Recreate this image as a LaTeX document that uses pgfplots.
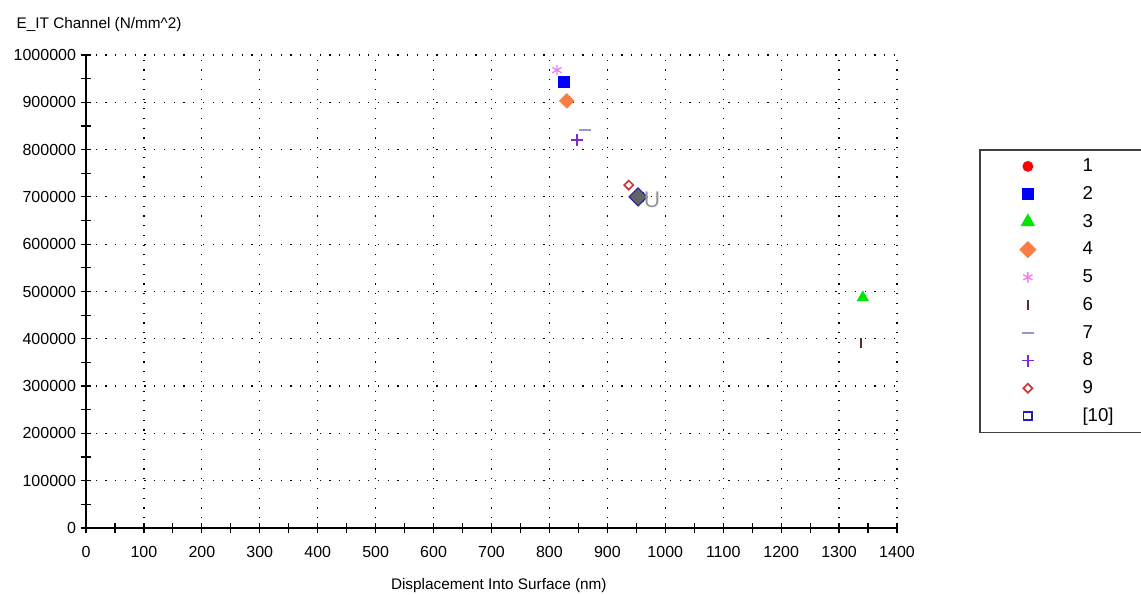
\documentclass[border=0pt]{standalone}
\usepackage{pgfplots}
\pgfplotsset{compat=1.18}
\usepackage{fontspec}
\setmainfont{Liberation Sans}
\definecolor{c1}{RGB}{255,0,0}
\definecolor{c2}{RGB}{0,0,255}
\definecolor{c3}{RGB}{0,230,0}
\definecolor{c4}{RGB}{250,125,70}
\definecolor{c5}{RGB}{238,130,238}
\definecolor{c6}{RGB}{90,45,45}
\definecolor{c7}{RGB}{150,150,215}
\definecolor{c8}{RGB}{130,40,210}
\definecolor{c9}{RGB}{200,60,60}
\definecolor{c10}{RGB}{30,30,180}
\definecolor{c11}{RGB}{100,100,100}
\definecolor{c12}{RGB}{150,150,150}
\begin{document}
\begin{tikzpicture}
\useasboundingbox (0pt,0pt) rectangle (855.75pt,446.25pt);
\node[anchor=west,font=\fontsize{11.5}{13}\selectfont] at (9pt,427.5pt) {E\_IT Channel (N/mm\textasciicircum 2)};
\begin{axis}[
  at={(64.5pt,50.25pt)}, anchor=south west,
  scale only axis, width=608.25pt, height=354.75pt,
  xmin=0, xmax=1400, ymin=0, ymax=1000000,
  axis lines*=left,
  axis line style={line width=1.3pt},
  xtick={0,100,...,1400},
  ytick={0,100000,...,1000000},
  minor x tick num=1, minor y tick num=1,
  tick align=center,
  major tick length=8pt, minor tick length=8pt,
  tick style={line width=0.9pt, black},
  minor tick style={line width=0.9pt, black},
  grid=major,
  major grid style={black, line width=0.9pt, dash pattern=on 0.9pt off 6.4pt},
  scaled y ticks=false, scaled x ticks=false,
  /pgf/number format/assume math mode=true,
  yticklabel style={/pgf/number format/fixed, /pgf/number format/1000 sep={}},
  xticklabel style={/pgf/number format/fixed, /pgf/number format/1000 sep={}, yshift=-6.5pt},
  tick label style={font=\fontsize{12}{14}\selectfont},
  xlabel={Displacement Into Surface (nm)},
  xlabel style={at={(axis description cs:0.509,-0.122)}, anchor=center, font=\fontsize{11.5}{13}\selectfont},
  legend style={at={(1.1011,0.8013)}, anchor=north west, draw=black!75, line width=1.3pt,
    font=\fontsize{14}{16}\selectfont, inner xsep=0pt, inner ysep=2pt,
    nodes={text height=11pt, text depth=3pt, inner ysep=3.4pt}},
  legend cell align=left,
  legend image code/.code={\path[draw=none,fill=none] (0pt,0pt) -- (75pt,0pt); \path[#1, only marks] plot coordinates {(36pt,0pt)};},
  clip=false,
]
\addplot[only marks, mark=*, mark size=3.4pt, color=c1] coordinates {(831,904000)};
\addlegendentry{\makebox[70pt][l]{1}}
\addplot[only marks, mark=square*, mark size=4pt, color=c2] coordinates {(825,943000)};
\addlegendentry{\makebox[70pt][l]{2}}
\addplot[only marks, mark=triangle*, mark size=5pt, color=c3] coordinates {(1341,487000)};
\addlegendentry{\makebox[70pt][l]{3}}
\addplot[only marks, mark=square*, mark size=3.9pt, color=c4, mark options={rotate=45}] coordinates {(830,903000)};
\addlegendentry{\makebox[70pt][l]{4}}
\addplot[only marks, mark=asterisk, mark size=4pt, color=c5, mark options={line width=1pt}] coordinates {(813,968000)};
\addlegendentry{\makebox[70pt][l]{5}}
\addplot[only marks, mark=|, mark size=3.8pt, color=c6, mark options={line width=1.5pt}] coordinates {(1338,391000)};
\addlegendentry{\makebox[70pt][l]{6}}
\addplot[only marks, mark=-, mark size=4.5pt, color=c7, mark options={line width=1.3pt}] coordinates {(861,841000)};
\addlegendentry{\makebox[70pt][l]{7}}
\addplot[only marks, mark=+, mark size=4.5pt, color=c8, mark options={line width=1.3pt}] coordinates {(848,820000)};
\addlegendentry{\makebox[70pt][l]{8}}
\addplot[only marks, mark=square, mark size=2.4pt, color=c9, mark options={line width=1.3pt, rotate=45}] coordinates {(937,725000)};
\addlegendentry{\makebox[70pt][l]{9}}
\addplot[only marks, mark=square, mark size=3.2pt, color=c10, mark options={line width=1.3pt}] coordinates {(955,700000)};
\addlegendentry{\makebox[70pt][l]{[10]}}
\addplot[only marks, mark=square*, mark size=4.8pt, color=c10, mark options={fill=c11, line width=0.8pt, rotate=45}, forget plot] coordinates {(953,700000)};
\addplot[only marks, mark=text, text mark={\textcolor{c12}{\fontsize{17}{17}\selectfont U}}, forget plot] coordinates {(977,693000)};
\end{axis}
\end{tikzpicture}
\end{document}
